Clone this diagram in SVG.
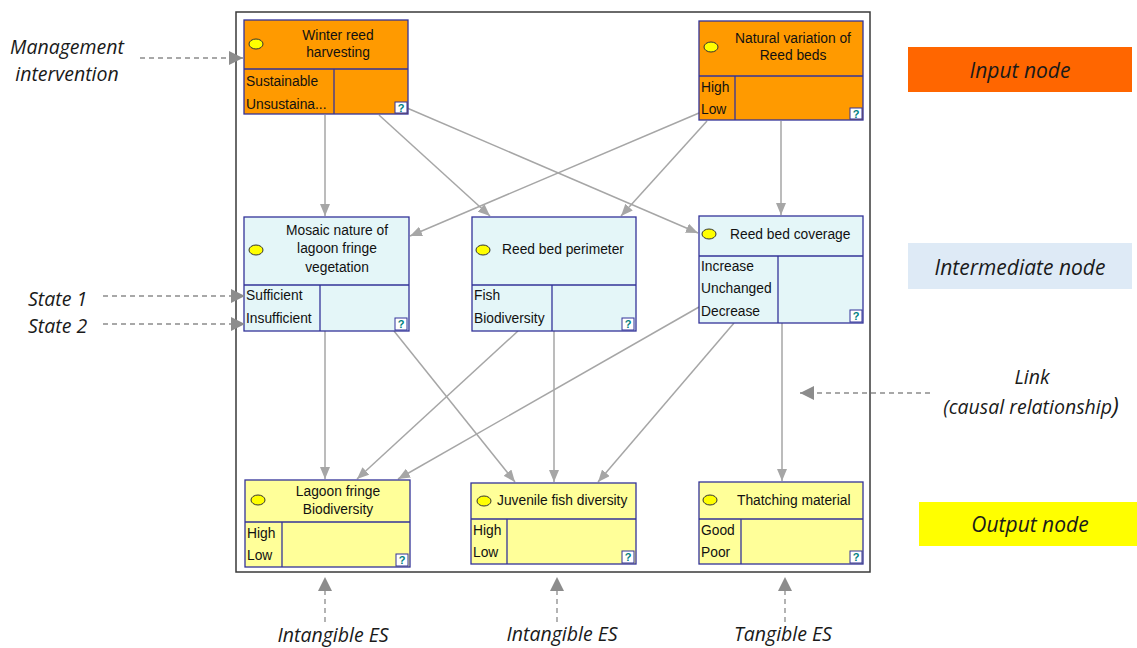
<svg xmlns="http://www.w3.org/2000/svg" width="1137" height="648" viewBox="0 0 1137 648">
<defs>
<style>
.frame{fill:#fff;stroke:#3a3a3a;stroke-width:1.5}
.box{stroke:#333399;stroke-width:1.3}
.in{fill:#FF9A00}
.mid{fill:#E4F6F8}
.out{fill:#FFFF99}
.div{stroke:#333399;stroke-width:1.3;fill:none}
.dot{fill:#FFFF00;stroke:#333;stroke-width:1}
.t{font-family:"Liberation Sans",Arial,sans-serif;font-size:13.8px;fill:#111}
.c{text-anchor:middle}
.qb{fill:#fff;stroke:#333399;stroke-width:1}
.q{font-family:"Liberation Sans",Arial,sans-serif;font-size:11px;font-weight:bold;fill:#008080;text-anchor:middle}
.lnk{stroke:#A6A6A6;stroke-width:1.5;fill:none;marker-end:url(#ah)}
.dash{stroke:#8C8C8C;stroke-width:1.3;fill:none;stroke-dasharray:5 4;marker-end:url(#dh)}
.lab{font-family:"Open Sans","DejaVu Sans",sans-serif;font-style:italic;font-size:19.5px;fill:#1a1a1a}
.leg{font-family:"Open Sans","DejaVu Sans",sans-serif;font-style:italic;font-size:21px;fill:#1a1a1a;text-anchor:middle}
</style>
<marker id="ah" viewBox="0 0 12 10" refX="12" refY="5" markerWidth="12" markerHeight="10" markerUnits="userSpaceOnUse" orient="auto">
<path d="M0,0 L12,5 L0,10 Z" fill="#A6A6A6"/>
</marker>
<marker id="dh" viewBox="0 0 14 14" refX="14" refY="7" markerWidth="14" markerHeight="14" markerUnits="userSpaceOnUse" orient="auto">
<path d="M0,0 L14,7 L0,14 Z" fill="#8C8C8C"/>
</marker>
</defs>
<rect width="1137" height="648" fill="#fff"/>
<rect class="frame" x="236" y="12" width="634" height="560"/>

<g id="connectors">
<line class="lnk" x1="325" y1="115" x2="325" y2="216"/>
<line class="lnk" x1="379" y1="115" x2="490" y2="216"/>
<line class="lnk" x1="407" y1="108" x2="698" y2="233"/>
<line class="lnk" x1="699" y1="113" x2="410" y2="236"/>
<line class="lnk" x1="707" y1="121" x2="621" y2="216"/>
<line class="lnk" x1="781" y1="121" x2="781" y2="215"/>
<line class="lnk" x1="325" y1="331" x2="325" y2="479"/>
<line class="lnk" x1="394" y1="331" x2="515" y2="482"/>
<line class="lnk" x1="518" y1="331" x2="357" y2="479"/>
<line class="lnk" x1="554" y1="331" x2="554" y2="482"/>
<line class="lnk" x1="699" y1="307" x2="398" y2="479"/>
<line class="lnk" x1="734" y1="323" x2="598" y2="482"/>
<line class="lnk" x1="782" y1="323" x2="782" y2="481"/>
</g>

<g id="node-winter">
<rect class="box in" x="244" y="20" width="164" height="94"/>
<line class="div" x1="244" y1="69" x2="408" y2="69"/>
<line class="div" x1="334" y1="69" x2="334" y2="114"/>
<ellipse class="dot" cx="256" cy="44" rx="7" ry="5"/>
<text class="t c" x="338" y="40">Winter reed</text>
<text class="t c" x="338" y="57">harvesting</text>
<text class="t" x="246" y="86">Sustainable</text>
<text class="t" x="246" y="109">Unsustaina...</text>
<rect class="qb" x="395" y="102" width="12" height="11"/><text class="q" x="401" y="112">?</text>
</g>

<g id="node-natural">
<rect class="box in" x="699" y="21" width="164" height="99"/>
<line class="div" x1="699" y1="76" x2="863" y2="76"/>
<line class="div" x1="735" y1="76" x2="735" y2="120"/>
<ellipse class="dot" cx="711" cy="47" rx="7" ry="5"/>
<text class="t c" x="793" y="43">Natural variation of</text>
<text class="t c" x="793" y="60">Reed beds</text>
<text class="t" x="701" y="92">High</text>
<text class="t" x="701" y="114">Low</text>
<rect class="qb" x="850" y="108" width="12" height="11"/><text class="q" x="856" y="118">?</text>
</g>

<g id="node-mosaic">
<rect class="box mid" x="244" y="217" width="165" height="114"/>
<line class="div" x1="244" y1="285" x2="409" y2="285"/>
<line class="div" x1="320" y1="285" x2="320" y2="331"/>
<ellipse class="dot" cx="256" cy="250" rx="7" ry="5"/>
<text class="t c" x="337" y="235">Mosaic nature of</text>
<text class="t c" x="337" y="253">lagoon fringe</text>
<text class="t c" x="337" y="272">vegetation</text>
<text class="t" x="246" y="300">Sufficient</text>
<text class="t" x="246" y="323">Insufficient</text>
<rect class="qb" x="395" y="318" width="12" height="12"/><text class="q" x="401" y="328">?</text>
</g>

<g id="node-perimeter">
<rect class="box mid" x="472" y="217" width="164" height="114"/>
<line class="div" x1="472" y1="285" x2="636" y2="285"/>
<line class="div" x1="552" y1="285" x2="552" y2="331"/>
<ellipse class="dot" cx="483" cy="250" rx="7" ry="5"/>
<text class="t" x="502" y="254">Reed bed perimeter</text>
<text class="t" x="474" y="300">Fish</text>
<text class="t" x="474" y="323">Biodiversity</text>
<rect class="qb" x="622" y="318" width="12" height="12"/><text class="q" x="628" y="328">?</text>
</g>

<g id="node-coverage">
<rect class="box mid" x="699" y="216" width="164" height="107"/>
<line class="div" x1="699" y1="256" x2="863" y2="256"/>
<line class="div" x1="778" y1="256" x2="778" y2="323"/>
<ellipse class="dot" cx="709" cy="234" rx="7" ry="5"/>
<text class="t" x="730" y="239">Reed bed coverage</text>
<text class="t" x="701" y="271">Increase</text>
<text class="t" x="701" y="293">Unchanged</text>
<text class="t" x="701" y="316">Decrease</text>
<rect class="qb" x="850" y="310" width="12" height="12"/><text class="q" x="856" y="320">?</text>
</g>

<g id="node-lagoon">
<rect class="box out" x="245" y="480" width="165" height="87"/>
<line class="div" x1="245" y1="522" x2="410" y2="522"/>
<line class="div" x1="282" y1="522" x2="282" y2="567"/>
<ellipse class="dot" cx="258" cy="500" rx="7" ry="5"/>
<text class="t c" x="338" y="496">Lagoon fringe</text>
<text class="t c" x="338" y="514">Biodiversity</text>
<text class="t" x="247" y="538">High</text>
<text class="t" x="247" y="560">Low</text>
<rect class="qb" x="396" y="554" width="12" height="12"/><text class="q" x="402" y="564">?</text>
</g>

<g id="node-juvenile">
<rect class="box out" x="471" y="483" width="165" height="81"/>
<line class="div" x1="471" y1="519" x2="636" y2="519"/>
<line class="div" x1="507" y1="519" x2="507" y2="564"/>
<ellipse class="dot" cx="484" cy="501" rx="7" ry="5"/>
<text class="t" x="497" y="505">Juvenile fish diversity</text>
<text class="t" x="473" y="535">High</text>
<text class="t" x="473" y="557">Low</text>
<rect class="qb" x="622" y="551" width="12" height="12"/><text class="q" x="628" y="561">?</text>
</g>

<g id="node-thatching">
<rect class="box out" x="699" y="482" width="164" height="82"/>
<line class="div" x1="699" y1="519" x2="863" y2="519"/>
<line class="div" x1="741" y1="519" x2="741" y2="564"/>
<ellipse class="dot" cx="710" cy="500" rx="7" ry="5"/>
<text class="t" x="737" y="505">Thatching material</text>
<text class="t" x="701" y="535">Good</text>
<text class="t" x="701" y="557">Poor</text>
<rect class="qb" x="850" y="551" width="12" height="12"/><text class="q" x="856" y="561">?</text>
</g>

<g id="annotations">
<line class="dash" x1="140" y1="58" x2="243" y2="58"/>
<line class="dash" x1="103" y1="296" x2="245" y2="296"/>
<line class="dash" x1="103" y1="324" x2="245" y2="324"/>
<line class="dash" x1="930" y1="393" x2="800" y2="393"/>
<line class="dash" x1="325" y1="622" x2="325" y2="577"/>
<line class="dash" x1="557" y1="622" x2="557" y2="577"/>
<line class="dash" x1="785" y1="622" x2="785" y2="577"/>
<text class="lab c" x="67" y="54">Management</text>
<text class="lab c" x="67" y="81">intervention</text>
<text class="lab" x="28" y="306">State 1</text>
<text class="lab" x="28" y="333">State 2</text>
<text class="lab c" x="1032" y="384">Link</text>
<text class="lab c" x="1031" y="414">(causal relationship<tspan font-size="24">)</tspan></text>
<text class="lab c" x="333" y="642">Intangible ES</text>
<text class="lab c" x="562" y="641">Intangible ES</text>
<text class="lab c" x="783" y="641">Tangible ES</text>
</g>

<g id="legend-input">
<rect x="908" y="47" width="224" height="45" fill="#FF6600"/>
<text class="leg" x="1020" y="78">Input node</text>
</g>
<g id="legend-intermediate">
<rect x="908" y="243" width="224" height="46" fill="#DEEAF6"/>
<text class="leg" x="1020" y="275">Intermediate node</text>
</g>
<g id="legend-output">
<rect x="919" y="502" width="218" height="44" fill="#FFFF00"/>
<text class="leg" x="1030" y="532">Output node</text>
</g>
</svg>
